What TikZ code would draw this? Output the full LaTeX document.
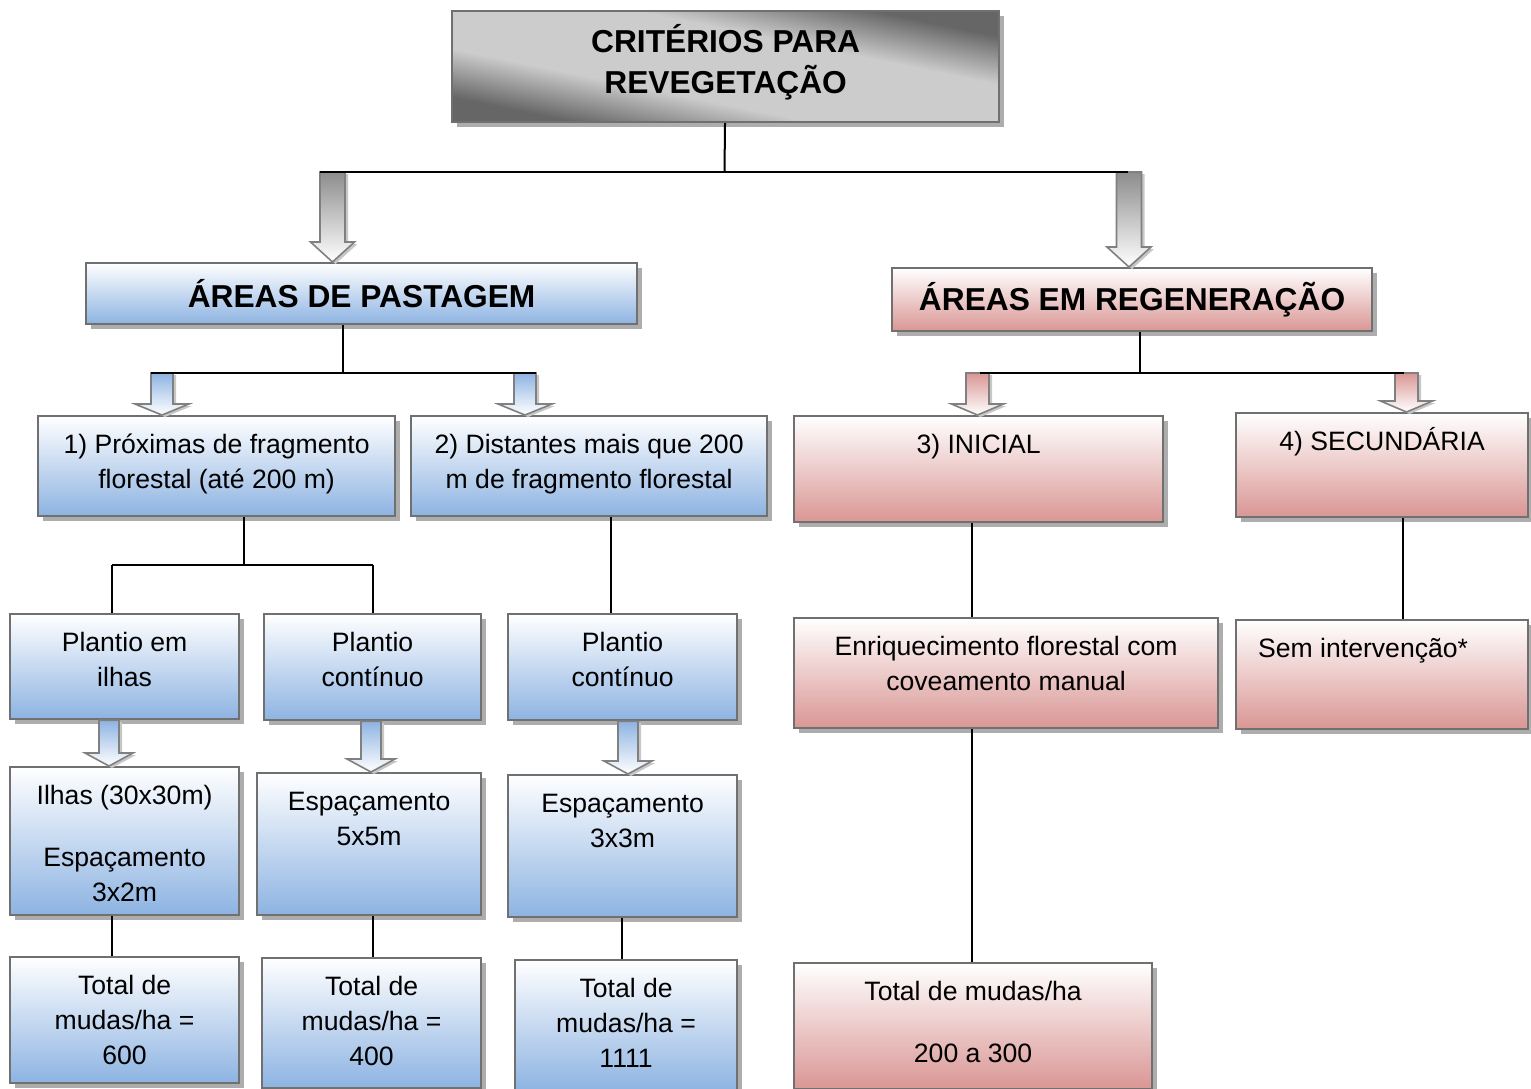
\documentclass[tikz,border=0pt]{standalone}
\usepackage{fontspec}
\setmainfont{Liberation Sans}
\usetikzlibrary{calc,shadows}

\definecolor{azulf}{RGB}{141,179,226}
\definecolor{rosaf}{RGB}{217,150,148}
\definecolor{borda}{RGB}{112,112,112}

\pgfdeclareverticalshading{diagonalcinza}{100bp}{color(0bp)=(black!60); color(27bp)=(black!60);
  color(40bp)=(black!20); color(60bp)=(black!20); color(73bp)=(black!60); color(100bp)=(black!60)}

\newcommand{\celula}[4][\centering]{\parbox[t][#3pt][t]{#2pt}{#1\rule{0pt}{37pt}#4}}
\newcommand{\setagrande}[7]{%
  \path[#1] let \p1=(#3), \p2=(#4), \p3=(#2,0) in
    (\x3-#5,\y1) -- (\x3+#5,\y1) -- (\x3+#5,\y2+#7) -- (\x3+#6,\y2+#7)
    -- (\x3,\y2) -- (\x3-#6,\y2+#7) -- (\x3-#5,\y2+#7) -- cycle;}

\tikzset{
  caixa/.style={draw=borda, line width=2.2pt, inner sep=0pt, anchor=north west,
    font=\fontsize{26.6}{35}\selectfont,
    drop shadow={shadow xshift=5pt, shadow yshift=-5pt, fill=black!32, opacity=1}},
  azul/.style={caixa, top color=white, bottom color=azulf},
  rosa/.style={caixa, top color=white, bottom color=rosaf},
  cabeca/.style={font=\fontsize{31.7}{41}\selectfont\bfseries, align=center},
  seta/.style={draw=black!50, line width=1.6pt, bottom color=white,
    drop shadow={shadow xshift=3pt, shadow yshift=-2pt, fill=black!22, opacity=1}},
  setacinza/.style={seta, top color=black!45},
  setaazul/.style={seta, top color=azulf},
  setarosa/.style={seta, top color=rosaf},
  liga/.style={draw=black, line width=2pt},
}

\begin{document}
\begin{tikzpicture}[x=1pt, y=-1pt]
  \useasboundingbox (0,0) rectangle (1531,1088);

  \node[caixa, cabeca, shade, shading=diagonalcinza, shading angle=-11.5,
    minimum width=547pt, minimum height=111pt] (titulo) at (451,10)
    {CRITÉRIOS PARA\\REVEGETAÇÃO\rule[-15pt]{0pt}{0pt}};
  \node[azul, cabeca, minimum width=551pt, minimum height=61pt] (pastagem) at (85,262) {ÁREAS DE PASTAGEM};
  \node[rosa, cabeca, minimum width=480pt, minimum height=63pt] (regeneracao) at (891,267) {ÁREAS EM REGENERAÇÃO};

  \node[azul] (proximas) at (37,415) {\celula{357}{100}{1) Próximas de fragmento\\florestal (até 200 m)}};
  \node[azul] (distantes) at (410,415) {\celula{356}{100}{2) Distantes mais que 200\\m de fragmento florestal}};
  \node[rosa] (inicial) at (793,415) {\celula{369}{106}{3) INICIAL}};
  \node[rosa] (secundaria) at (1235,412) {\celula{292}{104}{4) SECUNDÁRIA}};

  \node[azul] (ilhas) at (9,613) {\celula{229}{105}{Plantio em\\ilhas}};
  \node[azul] (continuo1) at (263,613) {\celula{217}{106}{Plantio\\contínuo}};
  \node[azul] (continuo2) at (507,613) {\celula{229}{106}{Plantio\\contínuo}};
  \node[rosa] (enriquecimento) at (793,617) {\celula{424}{110}{Enriquecimento florestal com\\coveamento manual}};
  \node[rosa] (sem) at (1235,619) {\celula[\raggedright\hspace*{22pt}]{292}{109}{Sem intervenção*}};

  \node[azul] (espaco1) at (9,766) {\celula{229}{148}{Ilhas (30x30m)\\[27pt]Espaçamento\\3x2m}};
  \node[azul] (espaco2) at (256,772) {\celula{224}{142}{Espaçamento\\5x5m}};
  \node[azul] (espaco3) at (507,774) {\celula{229}{142}{Espaçamento\\3x3m}};

  \node[azul] (total1) at (9,956) {\celula{229}{126}{Total de\\mudas/ha =\\600}};
  \node[azul] (total2) at (261,957) {\celula{219}{130}{Total de\\mudas/ha =\\400}};
  \node[azul] (total3) at (514,959) {\celula{222}{131}{Total de\\mudas/ha =\\1111}};
  \node[rosa] (total4) at (793,962) {\celula{358}{126}{Total de mudas/ha\\[27pt]200 a 300}};

  \coordinate (b1) at (724.5,172);
  \coordinate (b1e) at (320,172);
  \coordinate (b1d) at (1128,172);
  \coordinate (b2) at (343,373);
  \coordinate (b2e) at (151,373);
  \coordinate (b2d) at (536,373);
  \coordinate (b3) at (1140,373);
  \coordinate (b3e) at (980,373);
  \coordinate (b3d) at (1404,373);
  \coordinate (b4) at (244,565);
  \coordinate (b4e) at (112,565);
  \coordinate (b4d) at (373,565);
  \coordinate (x5) at (611,0);
  \coordinate (x6) at (622,0);
  \coordinate (x7) at (972,0);
  \coordinate (x8) at (1403,0);

  \setagrande{setacinza}{332.5}{b1e}{pastagem.north}{12.5pt}{22pt}{20pt}
  \setagrande{setacinza}{1129}{b1d}{regeneracao.north}{12.5pt}{22pt}{20pt}
  \setagrande{setaazul}{162}{b2e}{proximas.north}{11pt}{27pt}{11pt}
  \setagrande{setaazul}{525}{b2d}{distantes.north}{11pt}{27pt}{11pt}
  \setagrande{setarosa}{977.5}{b3e}{inicial.north}{11.5pt}{26pt}{11pt}
  \setagrande{setarosa}{1406.5}{b3d}{secundaria.north}{11.5pt}{26pt}{11pt}
  \setagrande{setaazul}{109}{ilhas.south}{espaco1.north}{10pt}{24pt}{13pt}
  \setagrande{setaazul}{371}{continuo1.south}{espaco2.north}{10pt}{24pt}{13pt}
  \setagrande{setaazul}{628}{continuo2.south}{espaco3.north}{10pt}{24pt}{13pt}

  \draw[liga] (titulo) -- (b1);
  \draw[liga] (b1e) -- (b1d);
  \draw[liga] (b2 |- pastagem.south) -- (b2);
  \draw[liga] (b2e) -- (b2d);
  \draw[liga] (b3 |- regeneracao.south) -- (b3);
  \draw[liga] (b3e) -- (b3d);
  \draw[liga] (b4 |- proximas.south) -- (b4);
  \draw[liga] (b4e) -- (b4d);
  \draw[liga] (b4e) -- (b4e |- ilhas.north);
  \draw[liga] (b4d) -- (b4d |- continuo1.north);
  \draw[liga] (x5 |- distantes.south) -- (x5 |- continuo2.north);
  \draw[liga] (b4e |- espaco1.south) -- (b4e |- total1.north);
  \draw[liga] (b4d |- espaco2.south) -- (b4d |- total2.north);
  \draw[liga] (x6 |- espaco3.south) -- (x6 |- total3.north);
  \draw[liga] (x7 |- inicial.south) -- (x7 |- enriquecimento.north);
  \draw[liga] (x7 |- enriquecimento.south) -- (x7 |- total4.north);
  \draw[liga] (x8 |- secundaria.south) -- (x8 |- sem.north);
\end{tikzpicture}
\end{document}
